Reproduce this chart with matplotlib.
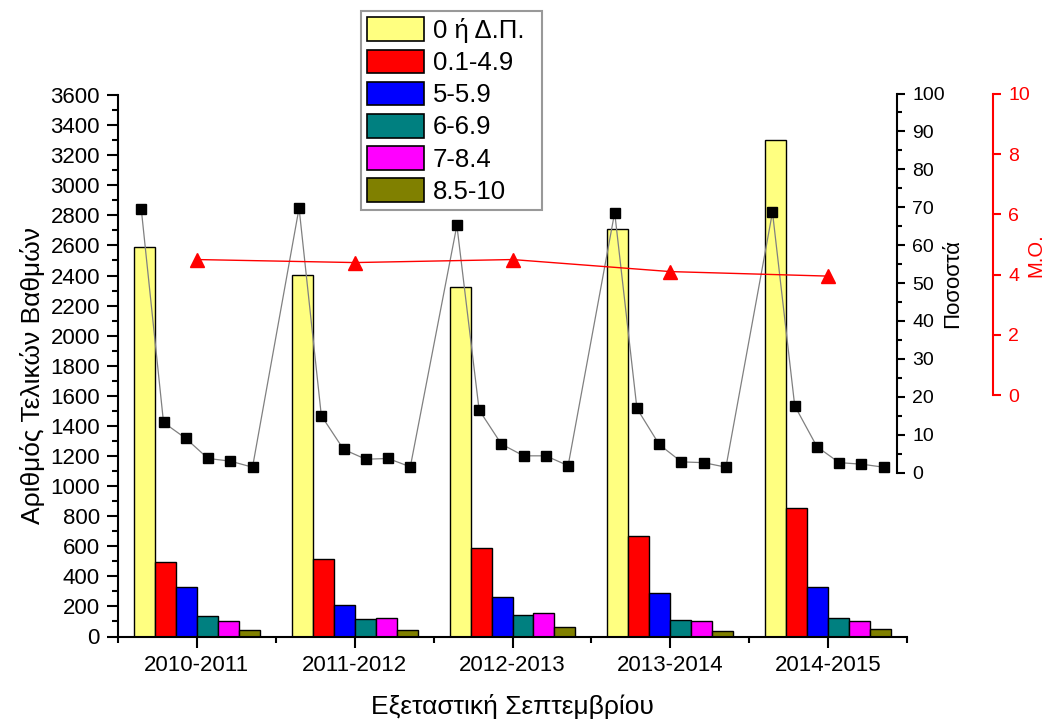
import matplotlib

matplotlib.use("Agg")
import matplotlib.pyplot as plt
import numpy as np
from matplotlib.patches import Patch
from matplotlib.ticker import MultipleLocator

plt.rcParams["font.family"] = ["Liberation Sans", "DejaVu Sans"]

# data
years = ["2010-2011", "2011-2012", "2012-2013", "2013-2014", "2014-2015"]
grade_bins = ["0 ή Δ.Π.", "0.1-4.9", "5-5.9", "6-6.9", "7-8.4", "8.5-10"]
bin_colors = ["#ffff80", "#ff0000", "#0000ff", "#008080", "#ff00ff", "#808000"]

counts = [
    [2590, 494, 331, 136, 103, 43],
    [2405, 516, 207, 114, 125, 46],
    [2323, 589, 265, 146, 155, 60],
    [2710, 669, 291, 107, 100, 37],
    [3300, 853, 331, 120, 103, 49],
]
percents = [
    [69.5, 13.2, 9.0, 3.7, 3.0, 1.4],
    [69.8, 15.0, 6.1, 3.5, 3.7, 1.5],
    [65.2, 16.5, 7.5, 4.4, 4.4, 1.8],
    [68.6, 16.9, 7.4, 2.8, 2.6, 1.4],
    [68.7, 17.6, 6.8, 2.6, 2.2, 1.4],
]
mean_grade = [4.5, 4.4, 4.5, 4.1, 3.95]

BAR_W = 0.133
PCT_STEP = 0.141

W, H = 1046, 722
fig = plt.figure(figsize=(W / 100, H / 100), dpi=100)


def frac(x0, y0, x1, y1):
    # pixel box (top-left origin) -> figure fraction
    return [x0 / W, 1 - y1 / H, (x1 - x0) / W, (y1 - y0) / H]


ax = fig.add_axes(frac(118, 95, 907, 636.5))
ax_pct = fig.add_axes(frac(118, 93.5, 907, 472.5), sharex=ax)
ax_mo = fig.add_axes(frac(118, 94, 907, 395), sharex=ax)

x = np.arange(1, len(years) + 1)
counts_arr = np.array(counts)
pct_arr = np.array(percents)

for i, (name, color) in enumerate(zip(grade_bins, bin_colors)):
    ax.bar(x + (i - 2.5) * BAR_W, counts_arr[:, i], width=BAR_W, color=color,
           edgecolor="black", linewidth=1.0, label=name, zorder=2)

ax.set_xlim(0.5, len(years) + 0.5)
ax.set_ylim(0, 3600)
ax.yaxis.set_major_locator(MultipleLocator(200))
ax.yaxis.set_minor_locator(MultipleLocator(100))
ax.set_xticks(x)
ax.set_xticklabels(years)
ax.set_xticks(np.arange(0.5, len(years) + 1), minor=True)
for s in ["top", "right"]:
    ax.spines[s].set_visible(False)
for s in ["left", "bottom"]:
    ax.spines[s].set_linewidth(1.5)
ax.tick_params(axis="y", which="major", direction="out", length=8, width=1.5,
               labelsize=16, pad=5)
ax.tick_params(axis="x", which="major", direction="out", length=8, width=1.5,
               labelsize=16, pad=5)
ax.tick_params(axis="both", which="minor", direction="out", length=4.5, width=1.5)
ax.set_ylabel("Αριθμός Τελικών Βαθμών", fontsize=19)
ax.yaxis.set_label_coords((45 - 118) / 789, (636.5 - 376) / 541.5)
ax.set_xlabel("Εξεταστική Σεπτεμβρίου", fontsize=19, labelpad=13)

# percentage line
px = (x[:, None] + (np.arange(6)[None, :] - 2.5) * PCT_STEP).ravel()
ax_pct.plot(px, pct_arr.ravel(), color="#808080", linewidth=0.9, marker="s",
            markersize=7.5, markerfacecolor="black", markeredgecolor="black", zorder=3)
ax_pct.set_ylim(0, 100)
ax_pct.patch.set_visible(False)
for s in ["top", "left", "bottom"]:
    ax_pct.spines[s].set_visible(False)
ax_pct.spines["right"].set_position(("axes", (897 - 118) / (907 - 118)))
ax_pct.spines["right"].set_linewidth(1.5)
ax_pct.yaxis.set_ticks_position("right")
ax_pct.yaxis.set_label_position("right")
ax_pct.yaxis.set_major_locator(MultipleLocator(10))
ax_pct.yaxis.set_minor_locator(MultipleLocator(5))
ax_pct.tick_params(axis="y", which="major", direction="out", length=6, width=1.5,
                   labelsize=14, pad=5)
ax_pct.tick_params(axis="y", which="minor", direction="out", length=3.5, width=1.5)
ax_pct.tick_params(axis="x", which="both", bottom=False, labelbottom=False)
ax_pct.set_ylabel("Ποσοστά", fontsize=16)
ax_pct.yaxis.set_label_coords((942 - 118) / 789, 0.5)

# mean grade line
red = "#ff0000"
ax_mo.plot(x, mean_grade, color=red, linewidth=1.0, marker="^", markersize=10,
           markeredgecolor=red, zorder=3)
ax_mo.set_ylim(0, 10)
ax_mo.patch.set_visible(False)
for s in ["top", "left", "bottom"]:
    ax_mo.spines[s].set_visible(False)
ax_mo.spines["right"].set_position(("axes", (993 - 118) / (907 - 118)))
ax_mo.spines["right"].set_color(red)
ax_mo.spines["right"].set_linewidth(1.5)
ax_mo.yaxis.set_ticks_position("right")
ax_mo.yaxis.set_label_position("right")
ax_mo.yaxis.set_major_locator(MultipleLocator(2))
ax_mo.tick_params(axis="y", which="major", direction="out", length=6, width=1.5,
                  labelsize=14, pad=5, colors=red)
ax_mo.tick_params(axis="x", which="both", bottom=False, labelbottom=False)
ax_mo.set_ylabel("M.O.", fontsize=14.5, color=red)
ax_mo.yaxis.set_label_coords((1026 - 118) / 789, (395 - 255) / 301)

handles = [Patch(facecolor=c, edgecolor="black", linewidth=1.2, label=n)
           for n, c in zip(grade_bins, bin_colors)]
leg = fig.legend(handles=handles, loc="upper left",
                 bbox_to_anchor=(361 / W, 1 - 11 / H, (542 - 361) / W, 0),
                 mode="expand", fontsize=18.5,
                 frameon=True, fancybox=False, edgecolor="#999999",
                 framealpha=1, borderpad=0.25, labelspacing=0.25,
                 handlelength=2.2, handleheight=1.05, handletextpad=0.35,
                 borderaxespad=0)
leg.get_frame().set_linewidth(1.5)
leg.set_zorder(10)

fig.savefig("out.png", dpi=100)
